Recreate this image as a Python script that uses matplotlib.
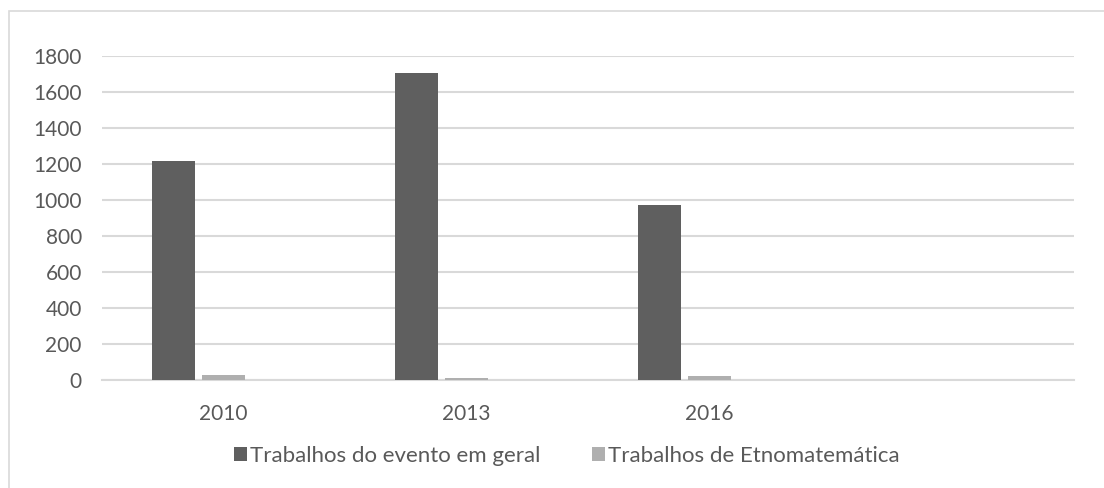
import matplotlib
matplotlib.use("Agg")
import matplotlib.pyplot as plt
from matplotlib.patches import Rectangle
import numpy as np

categories = ["2010", "2013", "2016", ""]
series_names = ["Trabalhos do evento em geral", "Trabalhos de Etnomatemática"]
geral = [1218, 1705, 972, np.nan]
etno = [28, 13, 24, np.nan]
yticks = [0, 200, 400, 600, 800, 1000, 1200, 1400, 1600, 1800]

plt.rcParams['font.family'] = ['Lato', 'DejaVu Sans']
W, H = 1104, 488
fig = plt.figure(figsize=(W / 100, H / 100), dpi=100)

# outer chart border (top & left visible)
fig.patches.append(Rectangle((9 / W, -0.1), 1.2, (H - 11) / H + 0.1, transform=fig.transFigure,
                             fill=False, edgecolor='#d9d9d9', linewidth=1.2))

ax = fig.add_axes([102 / W, (H - 380) / H, 972 / W, 324 / H])

x = np.arange(len(categories))
slot = 151 / 242.5 / 3  # width of one series slot in category units
bw = 43 / 242.5
offsets = [-slot, 0.0]
colors = ['#5f5f5f', '#afafaf']
for vals, off, c, name in zip([geral, etno], offsets, colors, series_names):
    ax.bar(x + off, vals, width=bw, color=c, label=name, zorder=3)

ax.set_xlim(-0.5, len(categories) - 0.5)
ax.set_ylim(0, 1800)
ax.set_yticks(yticks)
ax.set_xticks(x)
ax.set_xticklabels(categories)
ax.yaxis.grid(True, color='#d9d9d9', linewidth=1.5, zorder=0)
ax.xaxis.grid(False)
for s in ['top', 'right', 'left']:
    ax.spines[s].set_visible(False)
ax.spines['bottom'].set_color('#d9d9d9')
ax.spines['bottom'].set_linewidth(1.5)
ax.tick_params(axis='both', length=0, labelsize=15, labelcolor='#595959')
ax.tick_params(axis='y', pad=14.5)
ax.tick_params(axis='x', pad=17)

leg = fig.legend(loc='center', bbox_to_anchor=(567 / W, 1 - 456 / H), ncol=2, frameon=False,
                 fontsize=16, handlelength=0.57, handleheight=0.57, handletextpad=0.15,
                 columnspacing=2.3, borderpad=0, borderaxespad=0)
for t in leg.get_texts():
    t.set_color('#595959')

fig.savefig('out.png', dpi=100)
